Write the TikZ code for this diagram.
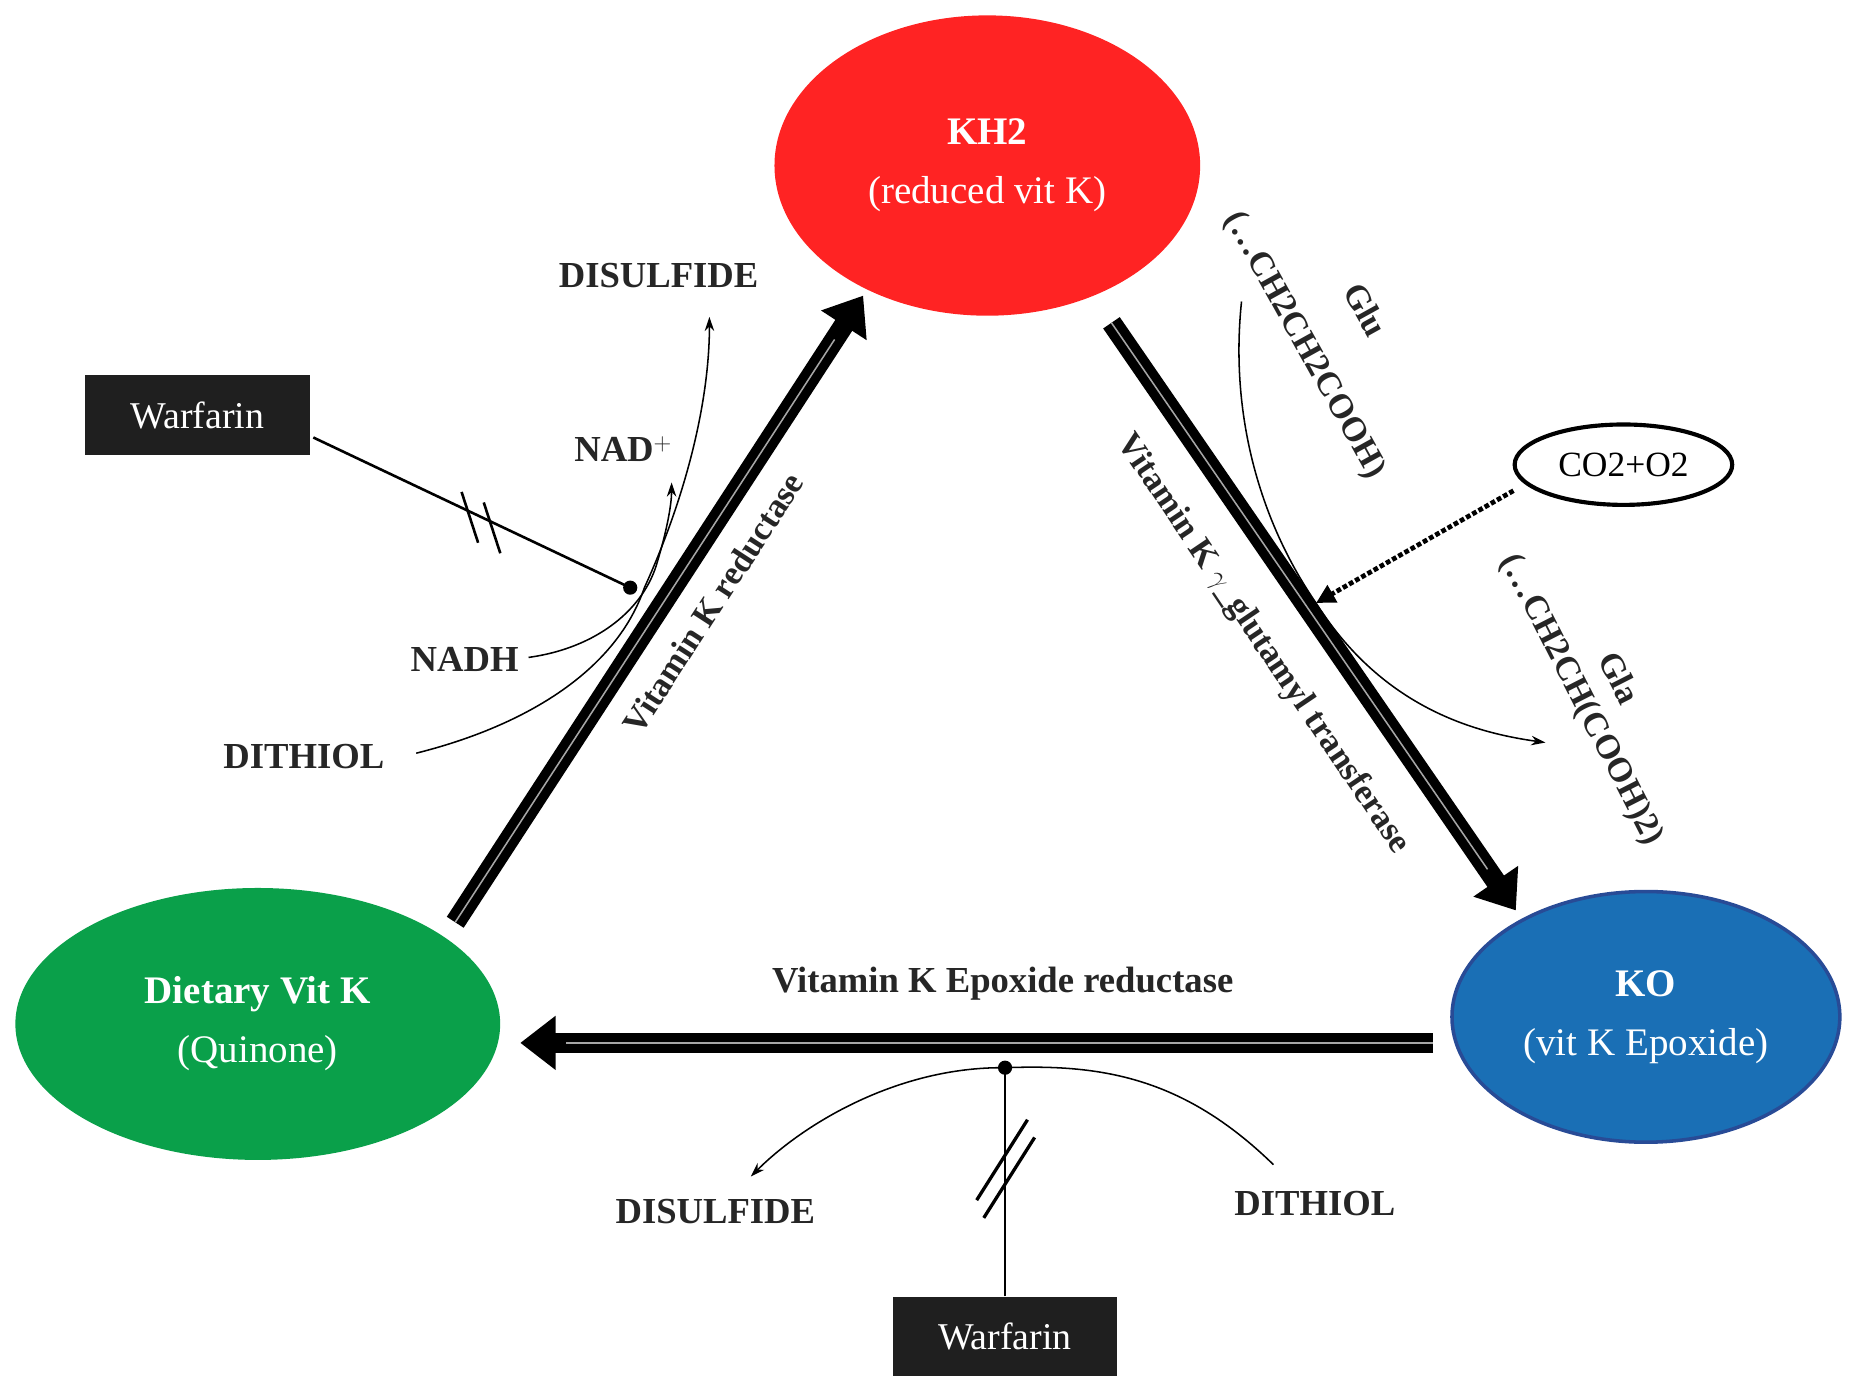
\documentclass[tikz,border=0pt]{standalone}
\usepackage{fontspec}
\setmainfont{Liberation Serif}
\usetikzlibrary{arrows.meta,shapes.geometric,calc}
\begin{document}
\begin{tikzpicture}[x=1pt,y=-1pt,
  lbl/.style={font=\fontsize{31}{33}\selectfont\bfseries, text=black!85},
  rl/.style={font=\fontsize{29}{31}\selectfont\bfseries, text=black!85},
  big/.style={line width=17pt,-{Triangle[length=30pt,width=44pt]}},
  inner/.style={black!35,line width=1.3pt},
  thin/.style={line width=1.3pt,-{Stealth[length=12pt,width=8pt]}},
  wbox/.style={fill=black!88,text=white,minimum width=190pt,minimum height=67pt,font=\fontsize{32}{34}\selectfont},
  ell/.style={ellipse,text=white,align=center,font=\fontsize{33}{50}\selectfont}]
\useasboundingbox (0,0) rectangle (1568,1182);
% ellipses
\node[ell,fill={rgb,255:red,255;green,35;blue,35},minimum width=360pt,minimum height=254pt] (kh2) at (835,140) {\textbf{KH2}\\(reduced vit K)};
\node[ell,fill={rgb,255:red,10;green,160;blue,74},minimum width=410pt,minimum height=230pt] (diet) at (218,866) {\textbf{Dietary Vit K}\\(Quinone)};
\node[ell,fill={rgb,255:red,26;green,111;blue,181},draw={rgb,255:red,40;green,75;blue,150},line width=3pt,minimum width=328pt,minimum height=212pt] (ko) at (1392,860) {\textbf{KO}\\(vit K Epoxide)};
\node[ellipse,draw,line width=3.5pt,minimum width=184pt,minimum height=68pt,font=\fontsize{30}{32}\selectfont] (co) at (1373,393) {CO2+O2};
% coordinates
\coordinate (a1s) at (385,780); \coordinate (a1e) at (730,250);
\coordinate (a2s) at (940,273); \coordinate (a2e) at (1282,770);
\coordinate (a3s) at (1212,882); \coordinate (a3e) at (440,882);
% big arrows
\draw[big] (a1s) -- (a1e);
\draw[inner] (a1s) -- ($(a1s)!0.93!(a1e)$);
\draw[big] (a2s) -- (a2e);
\draw[inner] (a2s) -- ($(a2s)!0.93!(a2e)$);
\draw[big] (a3s) -- (a3e);
\draw[inner] (a3s) -- ($(a3s)!0.95!(a3e)$);
% rotated labels
\node[rl,rotate=57] (vkr) at (603,510) {Vitamin K reductase};
\node[rl,rotate=-56] (vkg) at (1068,545) {Vitamin K $\gamma$\_glutamyl transferase};
\node[lbl] (ver) at (848,832) {Vitamin K Epoxide reductase};
% left side
\node[wbox] (w1) at (167,351) {Warfarin};
\node[lbl] (dis1) at (557,233) {DISULFIDE};
\node[lbl] (nad) at (527,380) {NAD$^{+}$};
\node[lbl] (nadh) at (393,558) {NADH};
\node[lbl] (dit1) at (257,640) {DITHIOL};
\coordinate (p1) at (545,497);
\draw[thin] (352,637) .. controls (440,615) and (520,570) .. (p1) .. controls (580,420) and (600,340) .. (600,268);
\draw[thin] (447,556) .. controls (505,548) and (545,515) .. (556,475) .. controls (565,445) and (568,425) .. (568,408);
\coordinate (w1e) at (265,370);
\coordinate (wd) at (533,497);
\draw[line width=2.2pt] (w1e) -- (wd);
\fill (wd) circle (6pt);
\draw[line width=2.2pt] ($(w1e)!0.52!(wd)+(-14,-20)$) -- ++(14,43);
\draw[line width=2.2pt] ($(w1e)!0.59!(wd)+(-14,-20)$) -- ++(14,43);
% right side
\node[rl,rotate=-61] (glu) at (1155,262) {Glu};
\node[rl,rotate=-61] (ch1) at (1103,292) {(…CH2CH2COOH)};
\node[rl,rotate=-63] (gla) at (1370,573) {Gla};
\node[rl,rotate=-63] (ch2) at (1337,592) {(…CH2CH(COOH)2)};
\coordinate (p2) at (1113,510);
\draw[thin] (1050,255) .. controls (1040,350) and (1065,440) .. (p2) .. controls (1170,600) and (1250,620) .. (1307,628);
\coordinate (cs) at (1280,415);
\draw[line width=4pt,dotted,-{Triangle[length=16pt,width=16pt]}] (cs) -- (p2);
% bottom
\node[wbox] (w2) at (850,1130) {Warfarin};
\node[lbl] (dis2) at (605,1025) {DISULFIDE};
\node[lbl] (dit2) at (1112,1018) {DITHIOL};
\coordinate (p3) at (850,903);
\draw[thin] (1077,985) .. controls (1000,910) and (930,900) .. (p3) .. controls (760,902) and (680,950) .. (635,995);
\draw[line width=2.2pt] (w2.north) -- (p3);
\fill (p3) circle (6pt);
\draw[line width=2.8pt] (832,1030) -- (875,962);
\draw[line width=2.8pt] (826,1015) -- (869,947);
\end{tikzpicture}
\end{document}
